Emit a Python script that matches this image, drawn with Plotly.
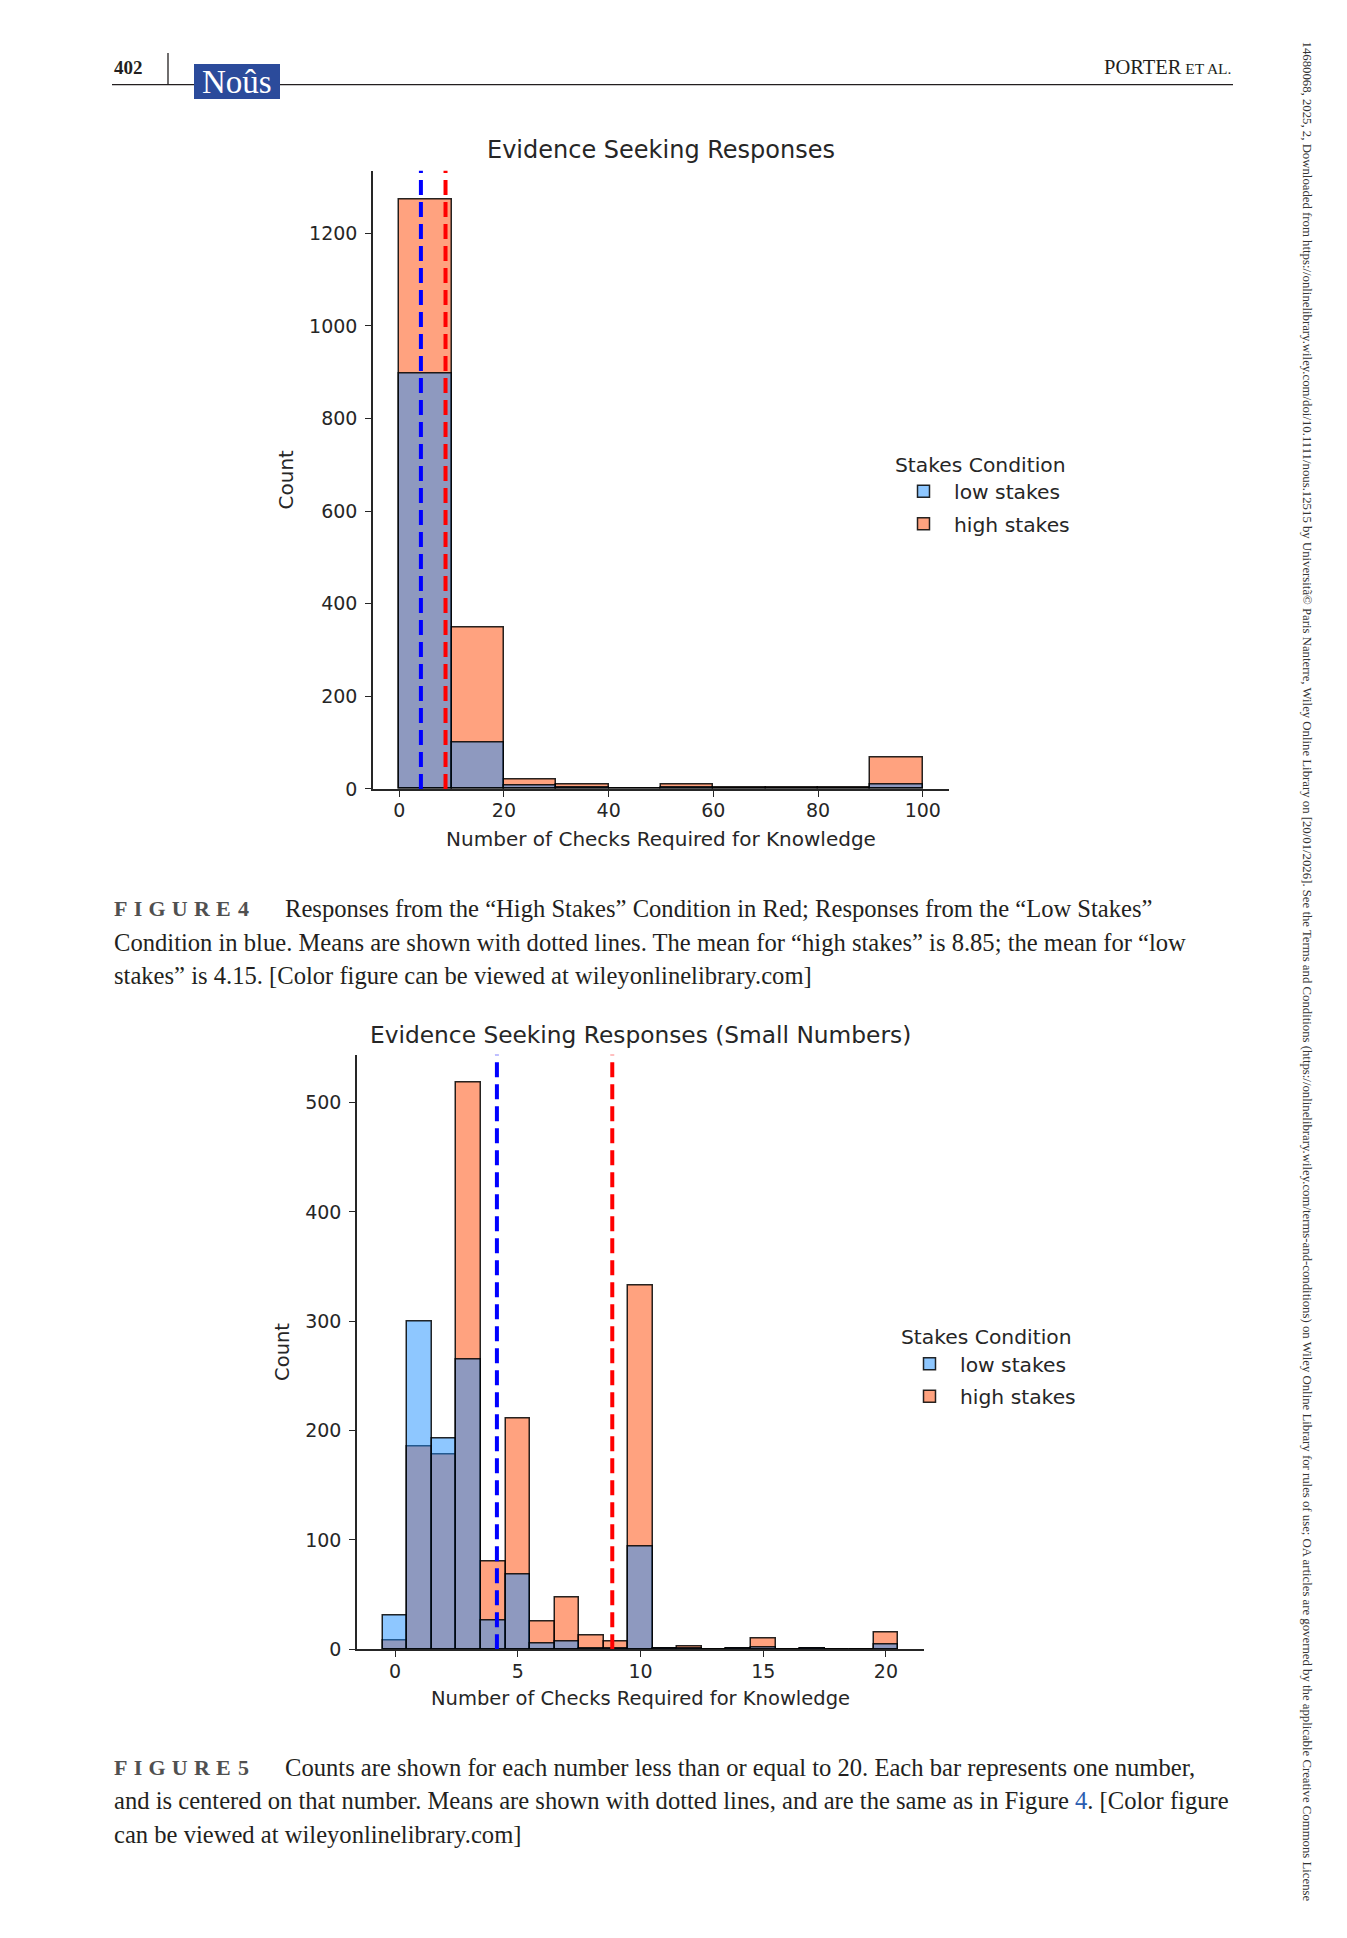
import plotly.graph_objects as go

W, H = 1347, 1938
SY = 1938 / 1926  # small vertical calibration of the page coordinates

# ---------------- data ----------------
# Figure 4: bins of width 10 from 0 to 100 (bin centres)
bins1 = [5, 15, 25, 35, 45, 55, 65, 75, 85, 95]
bin_width1 = 10
low1 = [897, 100, 7, 2, 0, 3, 1, 1, 1, 10]
high1 = [1272, 348, 20, 10, 0, 10, 2, 2, 3, 67]
xticks1 = [0, 20, 40, 60, 80, 100]
yticks1 = [0, 200, 400, 600, 800, 1000, 1200]

# Figure 5: one bin per number 0..20
bins2 = list(range(0, 21))
bin_width2 = 1
low2 = [31, 300, 193, 265, 26, 68, 5, 7, 1, 1, 94, 1, 1, 0, 1, 2, 0, 1, 0, 0, 4]
high2 = [8, 185, 178, 518, 80, 211, 25, 47, 13, 7, 333, 1, 3, 0, 1, 10, 0, 1, 0, 0, 15]
xticks2 = [0, 5, 10, 15, 20]
yticks2 = [0, 100, 200, 300, 400, 500]

mean_high = 8.85
mean_low = 4.15

series_names = ["low stakes", "high stakes"]

# ---------------- styling ----------------
LOW_FILL = "rgba(30,144,255,0.5)"
HIGH_FILL = "rgba(255,69,0,0.5)"
EDGE = "rgba(0,0,0,0.85)"
TXT = "#262626"
SANS = "DejaVu Sans"
SERIF = "Liberation Serif"


def px(x):
    return x / W


def py(y):
    return 1 - y * SY / H


fig = go.Figure()


def add_hist(bins, width, low, high, xa, ya, legend):
    fig.add_trace(go.Bar(
        x=bins, y=high, width=width, name=series_names[1],
        marker=dict(color=HIGH_FILL, line=dict(color=EDGE, width=1.5)),
        xaxis=xa, yaxis=ya, legend=legend, legendrank=2,
        legendgroup="high",
    ))
    fig.add_trace(go.Bar(
        x=bins, y=low, width=width, name=series_names[0],
        marker=dict(color=LOW_FILL, line=dict(color=EDGE, width=1.5)),
        xaxis=xa, yaxis=ya, legend=legend, legendrank=1,
        legendgroup="low",
    ))


def add_means(top, xa, ya):
    for m, c in [(mean_low, "#0000ff"), (mean_high, "#ff0000")]:
        fig.add_trace(go.Scatter(
            x=[m, m], y=[0, top], mode="lines",
            line=dict(color=c, width=4, dash="15px,7px"),
            xaxis=xa, yaxis=ya, showlegend=False, hoverinfo="skip",
        ))


top1 = max(high1) * 1.05
top2 = max(high2) * 1.05

add_hist(bins1, bin_width1, low1, high1, "x", "y", "legend")
add_means(top1, "x", "y")
add_hist(bins2, bin_width2, low2, high2, "x2", "y2", "legend2")
add_means(top2, "x2", "y2")

axis_common = dict(
    showline=True, linecolor=TXT, linewidth=1.5, mirror=False,
    ticks="outside", ticklen=6, tickwidth=1.3, tickcolor=TXT,
    showgrid=False, zeroline=False,
    tickfont=dict(family=SANS, size=19, color=TXT),
)
title_font1 = dict(family=SANS, size=20, color=TXT)
title_font2 = dict(family=SANS, size=19.5, color=TXT)
leg_font = dict(family=SANS, size=20.3, color=TXT)

fig.update_layout(
    width=W, height=H, autosize=False,
    margin=dict(l=0, r=0, t=0, b=0),
    paper_bgcolor="white", plot_bgcolor="white",
    barmode="overlay", bargap=0,
    xaxis=dict(axis_common, domain=[px(373), px(949)], range=[-5, 105],
               tickvals=xticks1, anchor="y", ticklabelstandoff=-2,
               title=dict(text="Number of Checks Required for Knowledge",
                          font=title_font1, standoff=12)),
    yaxis=dict(axis_common, domain=[py(788.5), py(170.5)], range=[0, top1],
               tickvals=yticks1, anchor="x", ticklabelstandoff=4,
               title=dict(text="Count", font=title_font1, standoff=10)),
    xaxis2=dict(axis_common, domain=[px(357), px(924)], range=[-1.55, 21.55],
                tickvals=xticks2, anchor="y2", ticklabelstandoff=-2,
                title=dict(text="Number of Checks Required for Knowledge",
                           font=title_font2, standoff=10)),
    yaxis2=dict(axis_common, domain=[py(1648.5), py(1054)], range=[0, top2],
                tickvals=yticks2, anchor="x2", ticklabelstandoff=4,
                title=dict(text="Count", font=title_font2, standoff=10)),
    legend=dict(
        x=px(893), y=py(445), xanchor="left", yanchor="top",
        title=dict(text="Stakes Condition", font=leg_font),
        font=leg_font,
        bgcolor="rgba(0,0,0,0)", itemwidth=51,
        traceorder="grouped", tracegroupgap=3,
    ),
    legend2=dict(
        x=px(899), y=py(1317), xanchor="left", yanchor="top",
        title=dict(text="Stakes Condition", font=leg_font),
        font=leg_font,
        bgcolor="rgba(0,0,0,0)", itemwidth=51,
        traceorder="grouped", tracegroupgap=3,
    ),
)

ann = []
# chart titles
ann.append(dict(x=px(661), y=py(150), text="Evidence Seeking Responses",
                font=dict(family=SANS, size=24, color=TXT)))
ann.append(dict(x=px(640), y=py(1034), text="Evidence Seeking Responses (Small Numbers)",
                font=dict(family=SANS, size=23.3, color=TXT)))

# header
ann.append(dict(x=px(112), y=py(67), text="<b>402</b>", xanchor="left",
                font=dict(family=SERIF, size=19, color="#231f20")))
ann.append(dict(x=px(1233), y=py(67),
                text="PORTER<span style='font-size:15.5px'> ET AL.</span>",
                xanchor="right", font=dict(family=SERIF, size=20.5, color="#231f20")))
ann.append(dict(x=px(237), y=py(82), text="Noûs",
                font=dict(family=SERIF, size=33, color="white")))

# captions
CAP = dict(family=SERIF, size=24.6, color="#231f20")
LAB = dict(family=SERIF, size=22, color="#505050")
sp = "\u2009\u200a"
fig4 = "<b>" + sp.join("FIGURE") + "\u200a 4</b>"
fig5 = "<b>" + sp.join("FIGURE") + "\u200a 5</b>"
cap4 = [
    "Responses from the “High Stakes” Condition in Red; Responses from the “Low Stakes”",
    "Condition in blue. Means are shown with dotted lines. The mean for “high stakes” is 8.85; the mean for “low",
    "stakes” is 4.15. [Color figure can be viewed at wileyonlinelibrary.com]",
]
cap5 = [
    "Counts are shown for each number less than or equal to 20. Each bar represents one number,",
    "and is centered on that number. Means are shown with dotted lines, and are the same as in Figure "
    "<span style='color:#2a5db0'>4</span>. [Color figure",
    "can be viewed at wileyonlinelibrary.com]",
]
ann.append(dict(x=px(112), y=py(908), text=fig4, xanchor="left", font=LAB))
ann.append(dict(x=px(283), y=py(908), text=cap4[0], xanchor="left", font=CAP))
ann.append(dict(x=px(112), y=py(942), text=cap4[1], xanchor="left", font=CAP))
ann.append(dict(x=px(112), y=py(975), text=cap4[2], xanchor="left", font=CAP))
ann.append(dict(x=px(112), y=py(1767), text=fig5, xanchor="left", font=LAB))
ann.append(dict(x=px(283), y=py(1767), text=cap5[0], xanchor="left", font=CAP))
ann.append(dict(x=px(112), y=py(1800), text=cap5[1], xanchor="left", font=CAP))
ann.append(dict(x=px(112), y=py(1834), text=cap5[2], xanchor="left", font=CAP))

# vertical download note
side = ("14680068, 2025, 2, Downloaded from https://onlinelibrary.wiley.com/doi/10.1111/nous.12515 "
        "by Universitã© Paris Nanterre, Wiley Online Library on [20/01/2026]. See the Terms and Conditions "
        "(https://onlinelibrary.wiley.com/terms-and-conditions) on Wiley Online Library for rules of use; "
        "OA articles are governed by the applicable Creative Commons License")
ann.append(dict(x=px(1307), y=py(971), text=side, textangle=90,
                font=dict(family=SERIF, size=12.78, color="#333333")))

for a in ann:
    a.setdefault("xref", "paper")
    a.setdefault("yref", "paper")
    a.setdefault("showarrow", False)
    a.setdefault("xanchor", "center")
    a.setdefault("yanchor", "middle")
    fig.add_annotation(**a)

# header rules and logo box
fig.add_shape(type="line", xref="paper", yref="paper",
              x0=px(112), x1=px(1233), y0=py(84.5), y1=py(84.5),
              line=dict(color="#231f20", width=1.3))
fig.add_shape(type="line", xref="paper", yref="paper",
              x0=px(168), x1=px(168), y0=py(53), y1=py(85),
              line=dict(color="#231f20", width=1.3))
fig.add_shape(type="rect", xref="paper", yref="paper",
              x0=px(194), x1=px(280), y0=py(99), y1=py(64),
              fillcolor="#2b4b9b", line=dict(width=0), layer="above")

post = "document.body.style.margin='0px';"

fig.write_html("out.html",
               config={"displayModeBar": False, "responsive": False},
               post_script=post)
